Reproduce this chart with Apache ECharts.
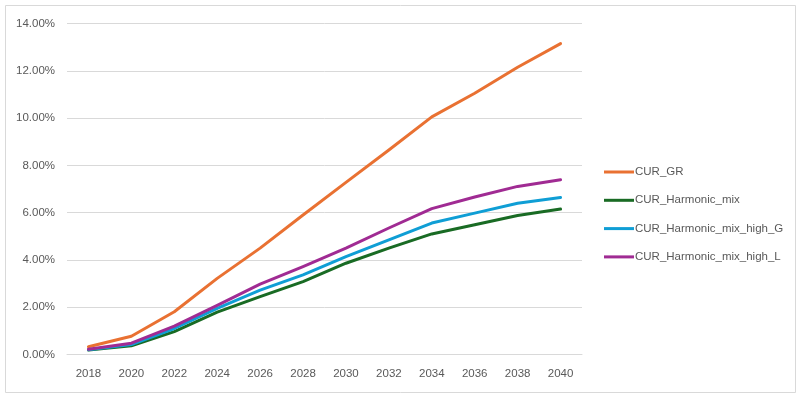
<!DOCTYPE html>
<html>
<head>
<meta charset="utf-8">
<script src="https://cdn.jsdelivr.net/npm/echarts@6/dist/echarts.min.js"></script>
<style>
html,body{margin:0;padding:0;background:#fff;}
#c{width:800px;height:397px;}
</style>
</head>
<body>
<div id="c"></div>
<script>
const years = ['2018','2020','2022','2024','2026','2028','2030','2032','2034','2036','2038','2040'];
const curGR = [0.33, 0.77, 1.81, 3.22, 4.5, 5.9, 7.28, 8.65, 10.05, 11.05, 12.15, 13.15];
const curHarmonicMix = [0.19, 0.37, 0.97, 1.79, 2.45, 3.08, 3.86, 4.5, 5.1, 5.49, 5.88, 6.15];
const curHarmonicMixHighG = [0.2, 0.42, 1.1, 1.95, 2.72, 3.37, 4.14, 4.85, 5.56, 5.98, 6.4, 6.64];
const curHarmonicMixHighL = [0.22, 0.48, 1.2, 2.08, 2.98, 3.72, 4.5, 5.35, 6.17, 6.66, 7.11, 7.39];
const seriesNames = ['CUR_GR','CUR_Harmonic_mix','CUR_Harmonic_mix_high_G','CUR_Harmonic_mix_high_L'];
const seriesData = [curGR, curHarmonicMix, curHarmonicMixHighG, curHarmonicMixHighL];
const colors = ['#E97132','#196B24','#0F9ED5','#A02B93'];

const chart = echarts.init(document.getElementById('c'), null, {renderer:'canvas'});
const font = 'Liberation Sans';
chart.setOption({
  animation: false,
  backgroundColor: '#fff',
  color: colors,
  graphic: [{
    type: 'rect', left: 5, top: 5, z: -1,
    shape: {width: 790, height: 387},
    style: {fill: '#fff', stroke: '#d9d9d9', lineWidth: 1}
  }],
  grid: {left: 67, right: 218, top: 23.5, bottom: 42.5, containLabel: false},
  xAxis: {
    type: 'category',
    data: years,
    boundaryGap: true,
    axisLine: {show: true, lineStyle: {color: '#d9d9d9', width: 1}},
    axisTick: {show: false},
    axisLabel: {color: '#595959', fontSize: 11.5, fontFamily: font, margin: 13}
  },
  yAxis: {
    type: 'value',
    min: 0, max: 14, interval: 2,
    axisLine: {show: false},
    axisTick: {show: false},
    splitLine: {lineStyle: {color: '#d9d9d9', width: 1}},
    axisLabel: {color: '#595959', fontSize: 11.5, fontFamily: font, margin: 12,
      formatter: v => v.toFixed(2) + '%'}
  },
  legend: {
    orient: 'vertical',
    left: 604, top: 166,
    padding: 0,
    itemWidth: 30, itemHeight: 3, itemGap: 16.3,
    icon: 'rect',
    textStyle: {color: '#595959', fontSize: 11.5, fontFamily: font, padding: [0,0,0,-4]},
    data: seriesNames
  },
  series: seriesNames.map((n, i) => ({
    name: n,
    type: 'line',
    data: seriesData[i],
    symbol: 'none',
    lineStyle: {width: 3, color: colors[i], cap: 'round', join: 'round'},
    itemStyle: {color: colors[i]}
  }))
});
</script>
</body>
</html>
